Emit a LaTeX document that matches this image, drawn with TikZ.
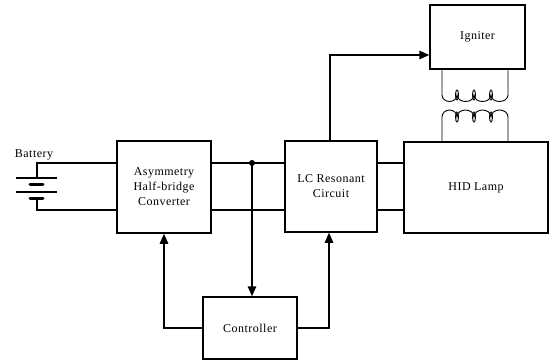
\documentclass[tikz,border=0pt]{standalone}
\usepackage{fontspec}
\setmainfont{Liberation Serif}[LetterSpace=4]
\usetikzlibrary{arrows.meta}
\begin{document}
\begin{tikzpicture}[x=1pt,y=-1pt,line width=1.5pt,
  blk/.style={draw,line width=1.5pt,inner sep=0pt,align=center,font=\fontsize{12}{15}\selectfont},
  wire/.style={line width=1.5pt},
  arr/.style={wire,-{Triangle[length=10pt,width=8.5pt]}},
  coil/.style={line width=0.9pt}]
\useasboundingbox (0,0) rectangle (553,361);
% blocks
\node[blk,minimum width=94pt,minimum height=92pt] (conv) at (164,187) {Asymmetry\\Half-bridge\\Converter};
\node[blk,minimum width=92pt,minimum height=91pt] (lc) at (331,186.5) {LC Resonant\\Circuit};
\node[blk,minimum width=144pt,minimum height=91pt] (hid) at (476,187.5) {HID Lamp};
\node[blk,minimum width=95pt,minimum height=64pt] (ign) at (477.5,37) {Igniter};
\node[blk,minimum width=94pt,minimum height=62pt] (ctrl) at (250,328) {Controller};
\node[font=\fontsize{12}{14}\selectfont,inner sep=0pt] (batlbl) at (34,155) {Battery};
% battery
\coordinate (bt) at (37,163);
\coordinate (bb) at (37,210);
\coordinate (p1a) at (16,178); \coordinate (p1b) at (57,178);
\coordinate (n1a) at (30,184); \coordinate (n1b) at (43,184);
\coordinate (p2a) at (16,192); \coordinate (p2b) at (57,192);
\coordinate (n2a) at (30,198); \coordinate (n2b) at (43,198);
\draw[wire] (p1a) -- (p1b);
\draw[line width=3pt,line cap=round] (n1a) -- (n1b);
\draw[wire] (p2a) -- (p2b);
\draw[line width=3pt,line cap=round] (n2a) -- (n2b);
\draw[wire] (37,178) -- (bt) -- (conv.west |- bt);
\draw[wire] (37,198) -- (bb) -- (conv.west |- bb);
% converter to LC
\draw[wire] (conv.east |- bt) -- (lc.west |- bt);
\draw[wire] (conv.east |- bb) -- (lc.west |- bb);
\draw[wire] (lc.east |- bt) -- (hid.west |- bt);
\draw[wire] (lc.east |- bb) -- (hid.west |- bb);
% junction to controller
\coordinate (j) at (252,163);
\fill (j) circle (3pt);
\draw[arr] (j) -- (j |- ctrl.north);
% controller feedback
\coordinate (cl) at (164,328);
\coordinate (cr) at (329,328);
\draw[arr] (ctrl.west |- cl) -- (cl) -- (cl |- conv.south);
\draw[arr] (ctrl.east |- cr) -- (cr) -- (cr |- lc.south);
% LC to igniter
\coordinate (li) at (330,55);
\draw[arr] (li |- lc.north) -- (li) -- (ign.west |- li);
% transformer primary
\coordinate (tl) at (442,69);
\coordinate (tr) at (508,69);
\draw[coil] (tl) -- (442,95) to[out=-90,in=180] (449.5,101.5) to[out=0,in=-90] (457,95)
  to[out=-90,in=180] (465.5,101.5) to[out=0,in=-90] (474,95)
  to[out=-90,in=180] (482.5,101.5) to[out=0,in=-90] (491,95)
  to[out=-90,in=180] (499.5,101.5) to[out=0,in=-90] (508,95) -- (tr);
\foreach \xx in {457,474,491} \draw[coil] (\xx,95) ellipse (1.5pt and 5pt);
% transformer secondary
\coordinate (sl) at (442,141);
\coordinate (sr) at (508,141);
\draw[coil] (sl) -- (442,117) to[out=90,in=180] (449.5,110) to[out=0,in=90] (457,117)
  to[out=90,in=180] (465.5,110) to[out=0,in=90] (474,117)
  to[out=90,in=180] (482.5,110) to[out=0,in=90] (491,117)
  to[out=90,in=180] (499.5,110) to[out=0,in=90] (508,117) -- (sr);
\foreach \xx in {457,474,491} \draw[coil] (\xx,117) ellipse (1.5pt and 5pt);
\end{tikzpicture}
\end{document}
